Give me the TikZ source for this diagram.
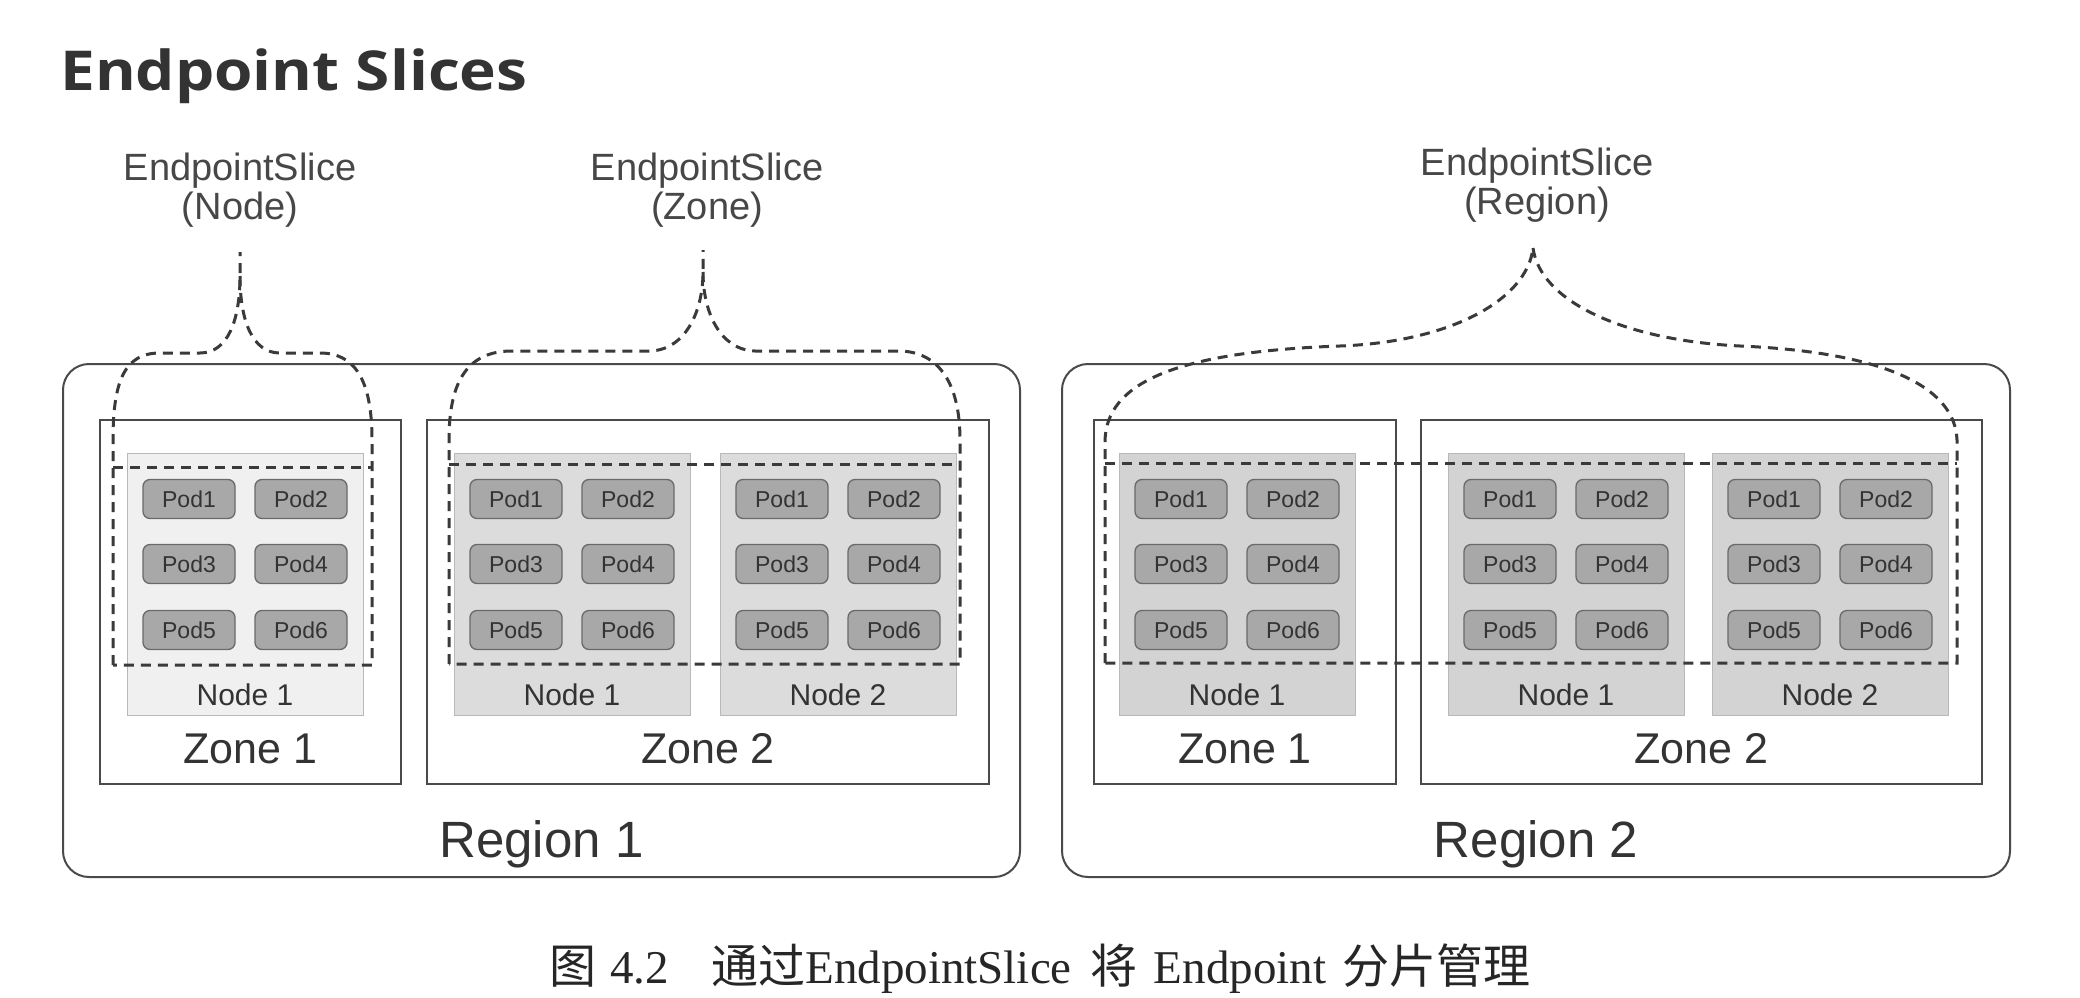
\documentclass[tikz,border=0pt]{standalone}
\usepackage{graphicx}
\usepackage{fontspec}
\setmainfont{Liberation Serif}
\newfontfamily\arial{Liberation Sans}
\newfontfamily\titlefont{Open Sans}
\newfontfamily\cjk{Noto Sans CJK SC}
\definecolor{linegray}{HTML}{4A4A4A}
\definecolor{textgray}{HTML}{333333}
\definecolor{dashgray}{HTML}{3A3A3A}
\definecolor{podfill}{HTML}{A8A8A8}
\definecolor{podline}{HTML}{6A6A6A}
\definecolor{nodelight}{HTML}{F0F0F0}
\definecolor{nodemid}{HTML}{DCDCDC}
\definecolor{nodedark}{HTML}{D3D3D3}
\begin{document}
\begin{tikzpicture}[x=1pt,y=-1pt,
  regionbox/.style={draw=linegray, line width=2pt, rounded corners=26pt, minimum height=513pt, inner sep=0pt},
  zonebox/.style={draw=linegray, line width=2pt, minimum height=364pt, inner sep=0pt},
  nodebox/.style={draw=gray!55, line width=1pt, minimum width=236pt, minimum height=262pt, inner sep=0pt},
  podbox/.style={draw=podline, fill=podfill, line width=1.3pt, rounded corners=7pt,
     minimum width=92pt, minimum height=39pt, inner sep=0pt, text=textgray,
     font=\arial\fontsize{23}{23}\selectfont},
  nodelabel/.style={anchor=base, inner sep=0pt, text=textgray, font=\arial\fontsize{30}{30}\selectfont},
  zonelabel/.style={anchor=base, inner sep=0pt, text=textgray, font=\arial\fontsize{43}{43}\selectfont},
  regionlabel/.style={anchor=base, inner sep=0pt, text=textgray, font=\arial\fontsize{51}{51}\selectfont},
  slicelabel/.style={anchor=base, inner sep=0pt, text=textgray!90, font=\arial\fontsize{38}{38}\selectfont},
  slice/.style={draw=dashgray, line width=3pt, dash pattern=on 10pt off 7pt}
]
\useasboundingbox (0,0) rectangle (2080,998);
\fill[white] (0,0) rectangle (2080,998);

% title
\node[anchor=base west, inner sep=0pt, text=textgray, font=\titlefont\bfseries\fontsize{55}{55}\selectfont] (title) at (60,91) {\scalebox{1.13}[1]{Endpoint Slices}};

% regions
\node[regionbox, minimum width=957pt] (r1) at (541.5,620.5) {};
\node[regionbox, minimum width=948pt] (r2) at (1536,620.5) {};

% zones
\node[zonebox, minimum width=301pt] (r1z1) at (250.5,602) {};
\node[zonebox, minimum width=562pt] (r1z2) at (708,602) {};
\node[zonebox, minimum width=302pt] (r2z1) at (1245,602) {};
\node[zonebox, minimum width=561pt] (r2z2) at (1701.5,602) {};

% kubernetes nodes with pods
\foreach \nm/\cx/\fc/\lab in {a/245/nodelight/Node 1, b/572/nodemid/Node 1, c/838/nodemid/Node 2, d/1237/nodedark/Node 1, e/1566/nodedark/Node 1, f/1830/nodedark/Node 2}{
  \node[nodebox, fill=\fc] (n\nm) at (\cx,584) {};
  \node[nodelabel] (n\nm lab) at (\cx,705) {\lab};
  \node[podbox] (n\nm p1) at (\cx-56,499) {Pod1};
  \node[podbox] (n\nm p2) at (\cx+56,499) {Pod2};
  \node[podbox] (n\nm p3) at (\cx-56,564) {Pod3};
  \node[podbox] (n\nm p4) at (\cx+56,564) {Pod4};
  \node[podbox] (n\nm p5) at (\cx-56,630) {Pod5};
  \node[podbox] (n\nm p6) at (\cx+56,630) {Pod6};
}

% zone and region labels
\node[zonelabel] (lz11) at (250.5,763) {Zone 1};
\node[zonelabel] (lz12) at (708,763) {Zone 2};
\node[zonelabel] (lz21) at (1245,763) {Zone 1};
\node[zonelabel] (lz22) at (1701.5,763) {Zone 2};
\node[regionlabel] (lr1) at (541.5,857) {Region 1};
\node[regionlabel] (lr2) at (1536,857) {Region 2};

% slice labels
\node[slicelabel] (s1a) at (240,180) {EndpointSlice};
\node[slicelabel] (s1b) at (240,219) {(Node)};
\node[slicelabel] (s2a) at (707,180) {EndpointSlice};
\node[slicelabel] (s2b) at (707,219) {(Zone)};
\node[slicelabel] (s3a) at (1537,175) {EndpointSlice};
\node[slicelabel] (s3b) at (1537,214) {(Region)};

% slice: node
\draw[slice] (113,467) -- (372,467);
\draw[slice] (113,665) -- (113,440) .. controls (113,380) and (125,353) .. (160,353) -- (200,353)
  .. controls (228,353) and (240,320) .. (240,276) -- (240,252);
\draw[slice] (240,276) .. controls (240,320) and (252,353) .. (280,353) -- (320,353)
  .. controls (355,353) and (372,380) .. (372,440) -- (372,665) -- (113,665);

% slice: zone
\draw[slice] (449,464) -- (960,464);
\draw[slice] (449,664) -- (449,440) .. controls (449,385) and (465,352) .. (510,351) -- (650,351)
  .. controls (685,350) and (703,312) .. (703,272) -- (703,250);
\draw[slice] (703,272) .. controls (703,312) and (720,350) .. (755,351) -- (900,351)
  .. controls (940,352) and (960,385) .. (960,440) -- (960,664) -- (449,664);

% slice: region
\draw[slice] (1105,463) -- (1957,463);
\draw[slice] (1105,663) -- (1105,440) .. controls (1107,385) and (1170,352) .. (1340,346)
  .. controls (1450,342) and (1527,300) .. (1533,248);
\draw[slice] (1533,248) .. controls (1540,300) and (1620,340) .. (1740,346)
  .. controls (1880,352) and (1955,385) .. (1957,440) -- (1957,663) -- (1105,663);

% caption
\node[anchor=base, inner sep=0pt, text=black!85, font=\fontsize{47}{47}\selectfont] (cap) at (1040,983)
  {{\cjk 图}\hspace{0.3em}4.2\hspace{0.9em}{\cjk 通过}EndpointSlice\hspace{0.4em}{\cjk 将}\hspace{0.35em}Endpoint\hspace{0.35em}{\cjk 分片管理}};
\end{tikzpicture}
\end{document}
